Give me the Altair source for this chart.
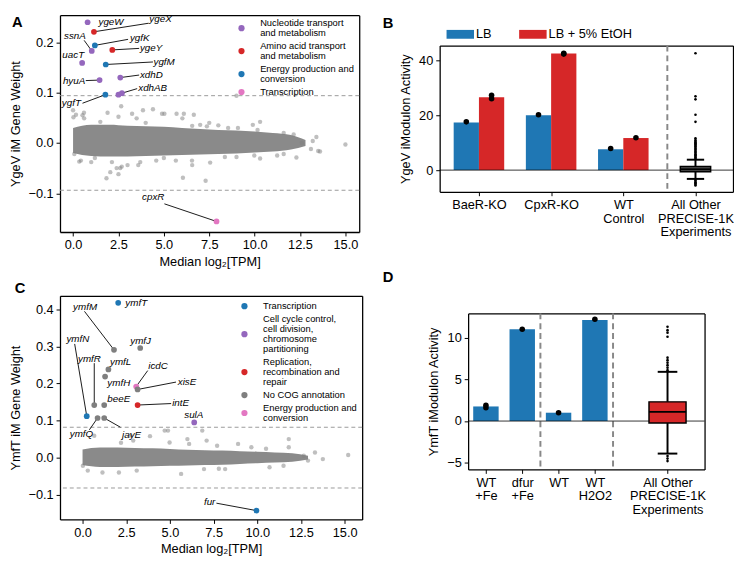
import json
import altair as alt
import pandas as pd

FONT = "Liberation Sans"
BLUE, RED, PURPLE, PINK, GREY = "#1f77b4", "#d62728", "#9467bd", "#e377c2", "#7f7f7f"

# ================= Panel A : YgeV iModulon gene weights =================
a_core_x  = [0.0, 1.0, 2.0, 3.0, 4.0, 5.0, 6.0, 7.0, 8.0, 9.0, 10.0, 11.0, 12.0, 12.8]
a_core_hi = [0.030, 0.036, 0.036, 0.034, 0.033, 0.032, 0.030, 0.028, 0.026, 0.025, 0.023, 0.020, 0.016, 0.006]
a_core_lo = [-0.020, -0.026, -0.027, -0.027, -0.026, -0.025, -0.024, -0.023, -0.022, -0.021, -0.019, -0.017, -0.013, -0.006]
a_bg_x = [0.0, 0.16, 0.6, 1.9, 2.65, 3.25, 4.4, 4.9, 5.7, 6.65, 9.0, 6.1, 7.0, 7.5, 9.9, 10.3, 13.2, 15.0,
          0.43, 1.0, 1.84, 2.4, 2.05, 2.6, 3.0, 3.7, 6.05, 7.3, 6.55, 10.3, 12.3, 13.5, 13.1,
          0.02, 0.61, 0.52, 2.5, 3.5, 3.85, 5.03, 6.02, 6.56, 7.37, 8.54, 9.08, 10.16, 11.6, 12.15, 13.4,
          13.6, 12.6, 0.07, 0.34, 2.5, 2.68, 3.59, 2.14, 6.56, 7.55, 8.36, 9.98, 11.24, 11.6, 5.66, 4.58,
          1.5, 4.0, 8.0, 1.2, 5.0, 9.0]
a_bg_y = [0.065, 0.056, 0.06, 0.06, 0.073, 0.058, 0.067, 0.058, 0.058, 0.056, 0.094, 0.058, 0.036, 0.04, 0.036, 0.042, 0.004, -0.003,
          -0.035, -0.038, -0.07, -0.05, -0.058, -0.05, -0.044, -0.038, -0.069, -0.075, -0.035, -0.031, -0.029, -0.016, -0.012,
          0.051, 0.049, 0.055, 0.052, 0.049, 0.065, 0.058, 0.049, 0.034, 0.033, 0.03, 0.03, 0.026, 0.02, 0.017, 0.012,
          -0.017, 0.0, -0.022, -0.037, -0.062, -0.047, -0.044, -0.038, -0.044, -0.039, -0.028, -0.025, -0.025, -0.022, -0.035, -0.035,
          0.042, 0.04, 0.035, -0.03, -0.03, -0.028]
a_cats = ["Nucleotide transport|and metabolism", "Amino acid transport|and metabolism",
          "Energy production and|conversion", "Transcription"]
a_colors = [PURPLE, RED, BLUE, PINK]
a_gene   = ["ygeW", "ygeX", "ygfK", "ssnA", "ygeY", "uacT", "ygfM", "hyuA", "xdhD", "ygfT", "xdhA", "xdhB", "cpxR"]
a_gene_x = [0.8, 1.15, 1.2, 1.03, 2.16, 0.5, 1.8, 1.46, 2.6, 1.78, 2.5, 2.69, 7.9]
a_gene_y = [0.240, 0.221, 0.194, 0.183, 0.185, 0.159, 0.156, 0.125, 0.130, 0.096, 0.096, 0.099, -0.156]
a_gene_cat = [0, 1, 2, 0, 1, 0, 2, 0, 0, 2, 0, 0, 3]
a_lab   = ["ygeW", "ygeX", "ygfK", "ssnA", "ygeY", "uacT", "ygfM", "hyuA", "xdhD", "xdhAB", "ygfT", "cpxR"]
a_lab_x = [1.4, 4.2, 3.13, 0.7, 3.68, 0.61, 4.43, 0.67, 3.68, 3.59, 0.43, 5.03]
a_lab_y = [0.240, 0.247, 0.209, 0.212, 0.188, 0.174, 0.161, 0.124, 0.135, 0.110, 0.079, -0.108]
a_lab_side = ["left", "left", "left", "right", "left", "right", "left", "right", "left", "left", "right", "right"]
a_lead_x  = [1.15, 1.2, 0.61, 2.16, 1.8, 0.7, 2.6, 2.69, 0.52, 5.03]
a_lead_y  = [0.221, 0.194, 0.204, 0.185, 0.156, 0.124, 0.130, 0.099, 0.079, -0.121]
a_lead_x2 = [4.16, 3.03, 1.03, 3.64, 4.4, 1.46, 3.64, 3.53, 1.78, 7.9]
a_lead_y2 = [0.238, 0.206, 0.183, 0.188, 0.161, 0.125, 0.135, 0.108, 0.096, -0.156]

# ================= Panel C : YmfT iModulon gene weights =================
c_core_x  = [0.0, 1.0, 2.0, 3.0, 4.0, 5.0, 6.0, 7.0, 8.0, 9.0, 10.0, 11.0, 12.0, 12.9]
c_core_hi = [0.022, 0.027, 0.027, 0.026, 0.025, 0.023, 0.021, 0.020, 0.019, 0.017, 0.016, 0.014, 0.012, 0.005]
c_core_lo = [-0.020, -0.025, -0.025, -0.024, -0.023, -0.022, -0.021, -0.020, -0.019, -0.017, -0.015, -0.013, -0.011, -0.005]
c_bg_x = [0.67, 3.86, 4.89, 4.98, 7.1, 6.1, 8.9, 11.8, 15.2, 13.3, 13.75, 5.64, 0.02, 0.3, 2.08, 1.14, 3.1,
          6.95, 8.16, 10.7, 11.5, 2.9, 2.2, 9.66, 10.5, 12.66, 12.9, 2.75, 6.0, 6.85, 11.8, 7.7, 7.8, 4.7]
c_bg_y = [0.059, 0.058, 0.073, 0.041, 0.046, 0.037, 0.037, 0.028, 0.007, 0.014, -0.004, -0.044, -0.022, -0.035, -0.04, -0.04, -0.035,
          -0.031, -0.031, -0.026, -0.022, 0.046, 0.04, 0.028, 0.024, 0.005, -0.008, 0.06, 0.05, 0.073, 0.05, 0.032, -0.03, 0.073]
c_cats = ["Transcription", "Cell cycle control,|cell division,|chromosome|partitioning",
          "Replication,|recombination and|repair", "No COG annotation", "Energy production and|conversion"]
c_colors = [BLUE, PURPLE, RED, GREY, PINK]
c_gene   = ["ymfT", "ymfM", "ymfJ", "ymfL", "ymfH", "icdC", "xisE", "intE", "ymfR", "beeE", "ymfN", "ymfQ", "jayE", "sulA", "fur"]
c_gene_x = [2.04, 1.8, 3.3, 1.48, 1.29, 3.07, 3.15, 3.15, 0.67, 1.24, 0.24, 0.86, 1.24, 6.39, 9.95]
c_gene_y = [0.418, 0.291, 0.296, 0.238, 0.219, 0.192, 0.184, 0.142, 0.142, 0.142, 0.112, 0.107, 0.107, 0.095, -0.143]
c_gene_cat = [0, 3, 3, 3, 3, 4, 3, 2, 3, 3, 0, 3, 3, 1, 0]
c_lab   = ["ymfT", "ymfM", "ymfN", "ymfJ", "ymfR", "ymfL", "icdC", "ymfH", "xisE", "beeE", "intE", "sulA", "ymfQ", "jayE", "fur"]
c_lab_x = [2.45, -0.54, -0.92, 2.73, -0.26, 1.57, 3.76, 1.42, 5.45, 1.42, 5.13, 5.82, -0.73, 2.26, 7.6]
c_lab_y = [0.418, 0.406, 0.321, 0.316, 0.267, 0.258, 0.246, 0.202, 0.204, 0.159, 0.147, 0.116, 0.064, 0.062, -0.121]
c_lab_side = ["left"] * 14 + ["right"]
c_lead_x  = [0.11, -0.45, 0.67, 3.73, 5.35, 5.07, 0.39, 2.17, 7.66]
c_lead_y  = [0.395, 0.307, 0.255, 0.235, 0.204, 0.146, 0.075, 0.082, -0.123]
c_lead_x2 = [1.8, 0.24, 0.67, 3.07, 3.15, 3.15, 0.86, 1.24, 9.95]
c_lead_y2 = [0.291, 0.112, 0.142, 0.192, 0.184, 0.142, 0.107, 0.107, -0.143]

# ================= Panel B : YgeV iModulon activity =================
b_xlabels = [["BaeR-KO"], ["CpxR-KO"], ["WT", "Control"], ["All Other", "PRECISE-1K", "Experiments"]]
b_pos = [0, 1, 2]
b_conds = ["LB", "LB + 5% EtOH"]
b_lb = [17.4, 20.0, 7.6]
b_etoh = [26.6, 42.5, 11.7]
b_lb_reps = [[17.6], [20.2], [7.9]]
b_etoh_reps = [[26.0, 27.3], [42.6, 42.3], [11.8]]
b_box_pos = 3
b_box = {"q1": -0.6, "med": 0.3, "q3": 1.3, "lo": -3.2, "hi": 3.8}
b_out = [4.2, 4.6, 5.0, 5.4, 5.8, 6.2, 6.6, 7.0, 7.4, 7.8, 8.2, 8.6, 9.0, 9.4, 9.8, 10.2, 10.6, 11.0, 11.6,
         17.6, 20.2, 25.8, 26.9, 42.6, -3.6, -4.0, -4.4, -4.8, -5.2, -5.6]
b_sep = [2.61]

# ================= Panel D : YmfT iModulon activity =================
d_xlabels = [["WT", "+Fe"], ["dfur", "+Fe"], ["WT"], ["WT", "H2O2"], [""], ["All Other", "PRECISE-1K", "Experiments"]]
d_pos = [0, 1, 2, 3]
d_vals = [1.75, 11.0, 1.0, 12.1]
d_reps = [[1.9, 1.6], [11.0], [1.0], [12.2]]
d_box_pos = 5
d_box = {"q1": -0.24, "med": 1.1, "q3": 2.3, "lo": -3.9, "hi": 5.9}
d_out = [6.1, 6.4, 6.7, 7.0, 7.3, 7.6, 10.1, 10.6, 10.9, 11.3, -4.2, -4.5, -4.8]
d_sep = [1.5, 3.5]

ONE = pd.DataFrame({"a": [0]})
EDGE = dict(domain=True, domainColor="black", domainWidth=1.3)


def axis(**kw):
    base = dict(grid=False, tickSize=4, tickColor="black", labelFontSize=13,
                titleFontSize=13, labelPadding=3, labelColor="black", titleColor="black",
                titleFontWeight="normal", labelFlush=False, labelOverlap=False, **EDGE)
    base.update(kw)
    return alt.Axis(**base)


def edge_axis(orient):
    return alt.Axis(orient=orient, labels=False, ticks=False, title=None, grid=False, **EDGE)


def make_xy(xdom, ydom, xax, yax):
    xs = alt.Scale(domain=xdom, nice=False, zero=False)
    ys = alt.Scale(domain=ydom, nice=False, zero=False)
    X = lambda f, a=None: alt.X(f, type="quantitative", scale=xs, axis=a)
    Y = lambda f, a=None: alt.Y(f, type="quantitative", scale=ys, axis=a)
    return X, Y


def letter_layer(t, dx, dy):
    return alt.Chart(pd.DataFrame({"t": [t]})).mark_text(
        fontWeight="bold", fontSize=15, align="left", baseline="top", color="black"
    ).encode(x=alt.value(dx), y=alt.value(dy), text="t:N")


def frame_layer(X, Y, xdom, ydom):
    """Top and right edges of the plot box (carried by a top and a right axis line)."""
    x0, x1 = xdom
    y0, y1 = ydom
    fdf = pd.DataFrame({"fx": [x0, x1], "fy": [y1, y1]})
    return alt.Chart(fdf).mark_point(opacity=0, size=1).encode(
        x=X("fx", edge_axis("top")), y=Y("fy", edge_axis("right")))


def legend_layers(cats, colors, w, top, lh=10.2, gap=3.0, fs=9.5):
    out, y = [], top
    for cat, col in zip(cats, colors):
        h = len(cat.split("|")) * lh
        out.append(alt.Chart(ONE).mark_circle(color=col, size=40, opacity=1).encode(
            x=alt.value(w - 120), y=alt.value(y + h / 2)))
        out.append(alt.Chart(pd.DataFrame({"t": [cat]})).mark_text(
            lineBreak="|", lineHeight=lh, baseline="top", align="left", fontSize=fs, color="black"
        ).encode(x=alt.value(w - 101), y=alt.value(y), text="t:N"))
        y += h + gap
    return out


def spacer():
    return alt.Chart(ONE).mark_point(opacity=0, size=0).encode(
        x=alt.value(0), y=alt.value(0)).properties(width=1, height=1)


def scatter_panel(core, bg, genes, labs, leads, cats, colors, thresh, xdom, ydom, xticks, yticks,
                  ytitle, w, h, letter, lpos, legtop):
    xax = axis(values=xticks, format=".1f", title="Median log\u2082[TPM]", titlePadding=4)
    yax = axis(values=yticks, format=".1f", title=ytitle, titlePadding=6)
    X, Y = make_xy(xdom, ydom, xax, yax)

    core_df = pd.DataFrame({"x": core[0], "hi": core[1], "lo": core[2]})
    bg_df = pd.DataFrame({"x": bg[0], "y": bg[1]})
    g_df = pd.DataFrame({"gene": genes[0], "x": genes[1], "y": genes[2],
                         "cat": [cats[i] for i in genes[3]]})
    l_df = pd.DataFrame({"t": labs[0], "x": labs[1], "y": labs[2], "side": labs[3]})
    ld_df = pd.DataFrame({"x": leads[0], "y": leads[1], "x2": leads[2], "y2": leads[3]})
    th_df = pd.DataFrame({"y": [thresh, -thresh]})

    layers = [
        alt.Chart(core_df).mark_area(color="#8a8a8a", interpolate="monotone").encode(
            x=X("x", xax), y=Y("hi", yax), y2=alt.Y2("lo")),
        alt.Chart(bg_df).mark_circle(color="#808080", opacity=0.5, size=20).encode(x=X("x"), y=Y("y")),
        alt.Chart(th_df).mark_rule(color="#999999", strokeDash=[4, 3], strokeWidth=1).encode(y=Y("y")),
        alt.Chart(ld_df).mark_rule(color="black", strokeWidth=0.9).encode(
            x=X("x"), y=Y("y"), x2=alt.X2("x2"), y2=alt.Y2("y2")),
        alt.Chart(g_df).mark_circle(size=34, opacity=1).encode(
            x=X("x"), y=Y("y"),
            color=alt.Color("cat:N", scale=alt.Scale(domain=cats, range=colors), legend=None)),
    ]
    for side in ["left", "right"]:
        layers.append(alt.Chart(l_df[l_df.side == side]).mark_text(
            fontStyle="italic", fontSize=10, align=side, baseline="middle", color="black"
        ).encode(x=X("x"), y=Y("y"), text="t:N"))
    layers += legend_layers(cats, colors, w, legtop)
    layers.append(frame_layer(X, Y, xdom, ydom))
    layers.append(letter_layer(letter, lpos[0], lpos[1]))
    return alt.layer(*layers).resolve_axis(x="independent", y="independent").properties(width=w, height=h)


def activity_axes(xticks, xlabels, yticks, ytitle):
    xax = axis(values=xticks, title=None, labelExpr=json.dumps(xlabels) + "[round(datum.value)]",
               labelLineHeight=14, labelPadding=3)
    yax = axis(values=yticks, format="d", title=ytitle, titlePadding=6)
    return xax, yax


def box_layers(X, Y, pos, box, outs, half_box, half_cap, fill):
    bdf = pd.DataFrame([{"x": pos, **box}])
    bdf["xa"] = pos - half_box
    bdf["xb"] = pos + half_box
    bdf["ca"] = pos - half_cap
    bdf["cb"] = pos + half_cap
    odf = pd.DataFrame({"x": [pos] * len(outs), "y": outs})
    return [
        alt.Chart(bdf).mark_rule(color="black", strokeWidth=2).encode(x=X("x"), y=Y("q3"), y2=alt.Y2("hi")),
        alt.Chart(bdf).mark_rule(color="black", strokeWidth=2).encode(x=X("x"), y=Y("lo"), y2=alt.Y2("q1")),
        alt.Chart(bdf).mark_rule(color="black", strokeWidth=2).encode(x=X("ca"), x2=alt.X2("cb"), y=Y("hi")),
        alt.Chart(bdf).mark_rule(color="black", strokeWidth=2).encode(x=X("ca"), x2=alt.X2("cb"), y=Y("lo")),
        alt.Chart(bdf).mark_bar(color=fill, stroke="black", strokeWidth=1.5).encode(
            x=X("xa"), x2=alt.X2("xb"), y=Y("q1"), y2=alt.Y2("q3")),
        alt.Chart(bdf).mark_rule(color="black", strokeWidth=2).encode(x=X("xa"), x2=alt.X2("xb"), y=Y("med")),
        alt.Chart(odf).mark_circle(color="black", size=7, opacity=1).encode(x=X("x"), y=Y("y")),
    ]


# ---------- build panel A and C ----------
A_W, A_H = 305, 221
C_W, C_H = 308, 228
panelA = scatter_panel((a_core_x, a_core_hi, a_core_lo), (a_bg_x, a_bg_y),
                       (a_gene, a_gene_x, a_gene_y, a_gene_cat),
                       (a_lab, a_lab_x, a_lab_y, a_lab_side),
                       (a_lead_x, a_lead_y, a_lead_x2, a_lead_y2),
                       a_cats, a_colors, 0.094, [-0.72, 15.76], [-0.177, 0.254],
                       [0, 2.5, 5, 7.5, 10, 12.5, 15], [-0.1, 0.0, 0.1, 0.2],
                       "YgeV iM Gene Weight", A_W, A_H, "A", (-49, 0), 3)
panelC = scatter_panel((c_core_x, c_core_hi, c_core_lo), (c_bg_x, c_bg_y),
                       (c_gene, c_gene_x, c_gene_y, c_gene_cat),
                       (c_lab, c_lab_x, c_lab_y, c_lab_side),
                       (c_lead_x, c_lead_y, c_lead_x2, c_lead_y2),
                       c_cats, c_colors, 0.082, [-1.29, 16.0], [-0.167, 0.437],
                       [0, 2.5, 5, 7.5, 10, 12.5, 15], [-0.1, 0.0, 0.1, 0.2, 0.3, 0.4],
                       "YmfT iM Gene Weight", C_W, C_H, "C", (-46, -15), 5.5)

# ---------- panel B ----------
B_W, B_H = 299, 149
B_XDOM, B_YDOM = [-0.544, 3.52], [-7.9, 45.4]
xaxB, yaxB = activity_axes([0, 1, 2, 3], b_xlabels, [0, 20, 40], "YgeV iModulon Activity")
XB, YB = make_xy(B_XDOM, B_YDOM, xaxB, yaxB)
bar_rows, dot_rows = [], []
for i, p in enumerate(b_pos):
    bar_rows.append({"pos": p, "cond": b_conds[0], "v": b_lb[i]})
    bar_rows.append({"pos": p, "cond": b_conds[1], "v": b_etoh[i]})
    for r in b_lb_reps[i]:
        dot_rows.append({"pos": p, "cond": b_conds[0], "v": r})
    for r in b_etoh_reps[i]:
        dot_rows.append({"pos": p, "cond": b_conds[1], "v": r})
bar_df = pd.DataFrame(bar_rows)
dot_df = pd.DataFrame(dot_rows)
side_expr = "datum.cond == '%s' ? -1 : 1" % b_conds[0]
b_layers = [
    alt.Chart(bar_df).transform_calculate(sd=side_expr).transform_calculate(
        xa="datum.pos + (datum.sd < 0 ? -0.35 : 0)", xb="datum.pos + (datum.sd < 0 ? 0 : 0.35)", zero="0"
    ).mark_bar().encode(
        x=XB("xa", xaxB), x2=alt.X2("xb"), y=YB("v", yaxB), y2=alt.Y2("zero"),
        color=alt.Color("cond:N", scale=alt.Scale(domain=b_conds, range=[BLUE, RED]), legend=None)),
    alt.Chart(pd.DataFrame({"s": b_sep})).mark_rule(color="#888888", strokeDash=[6, 4], strokeWidth=2).encode(x=XB("s")),
    alt.Chart(pd.DataFrame({"z": [0]})).mark_rule(color="black", strokeWidth=0.8).encode(y=YB("z")),
    alt.Chart(dot_df).transform_calculate(sd=side_expr).transform_calculate(
        xc="datum.pos + datum.sd * 0.175"
    ).mark_circle(color="black", size=32, opacity=1).encode(x=XB("xc"), y=YB("v")),
]
b_layers += box_layers(XB, YB, b_box_pos, b_box, b_out, 0.21, 0.12, "#5a5a5a")
# legend above the plot (swatch + label per condition)
for k, (cond, col) in enumerate(zip(b_conds, [BLUE, RED])):
    x0 = 7 + 74 * k
    b_layers.append(alt.Chart(ONE).mark_rect(color=col).encode(
        x=alt.value(x0), x2=alt.value(x0 + 28), y=alt.value(-16), y2=alt.value(-7)))
    b_layers.append(alt.Chart(pd.DataFrame({"t": [cond]})).mark_text(
        align="left", baseline="middle", fontSize=13, color="black").encode(
        x=alt.value(x0 + 30), y=alt.value(-11.5), text="t:N"))
b_layers.append(frame_layer(XB, YB, B_XDOM, B_YDOM))
b_layers.append(letter_layer("B", -58, -30))
b_layers.append(letter_layer("D", -58, 229))   # letter of the panel below, same column
panelB = alt.layer(*b_layers).resolve_axis(x="independent", y="independent").properties(width=B_W, height=B_H)

# ---------- panel D ----------
D_W, D_H = 241, 159
D_XDOM, D_YDOM = [-0.49, 6.02], [-5.8, 12.9]
xaxD, yaxD = activity_axes([0, 1, 2, 3, 5], d_xlabels, [-5, 0, 5, 10], "YmfT iModulon Activity")
XD, YD = make_xy(D_XDOM, D_YDOM, xaxD, yaxD)
d_bar_df = pd.DataFrame({"pos": d_pos, "v": d_vals})
d_dot_df = pd.DataFrame([{"pos": p, "v": r} for p, reps in zip(d_pos, d_reps) for r in reps])
d_layers = [
    alt.Chart(d_bar_df).transform_calculate(xa="datum.pos - 0.35", xb="datum.pos + 0.35", zero="0").mark_bar(
        color=BLUE).encode(x=XD("xa", xaxD), x2=alt.X2("xb"), y=YD("v", yaxD), y2=alt.Y2("zero")),
    alt.Chart(pd.DataFrame({"s": d_sep})).mark_rule(color="#888888", strokeDash=[6, 4], strokeWidth=2).encode(x=XD("s")),
    alt.Chart(pd.DataFrame({"z": [0]})).mark_rule(color="black", strokeWidth=0.8).encode(y=YD("z")),
    alt.Chart(d_dot_df).mark_circle(color="black", size=32, opacity=1).encode(x=XD("pos"), y=YD("v")),
]
d_layers += box_layers(XD, YD, d_box_pos, d_box, d_out, 0.51, 0.27, RED)
d_layers.append(frame_layer(XD, YD, D_XDOM, D_YDOM))
# invisible anchor so the panel's left edge lines up with the letter column
d_layers.append(alt.Chart(ONE).mark_point(opacity=0, size=1).encode(x=alt.value(-86), y=alt.value(20)))
panelD = alt.layer(*d_layers).resolve_axis(x="independent", y="independent").properties(width=D_W, height=D_H)


def ind(c):
    return c.resolve_scale(x="independent", y="independent", color="independent")


A_w = ind(alt.hconcat(spacer(), panelA, spacing=0))
C_w = ind(alt.hconcat(spacer(), panelC, spacing=0))
B_w = ind(alt.hconcat(spacer(), panelB, spacing=0))
D_w = ind(alt.hconcat(spacer(), panelD, spacing=0))
left = ind(alt.vconcat(A_w, C_w, spacing=13))
right_top = ind(alt.vconcat(spacer(), B_w, spacing=0))
right = ind(alt.vconcat(right_top, D_w, spacing=28))
chart = ind(alt.hconcat(left, right, spacing=19)).properties(padding=0).configure(
    font=FONT).configure_view(strokeOpacity=0)

chart.save("out.html", embed_options={"renderer": "svg", "actions": False})
